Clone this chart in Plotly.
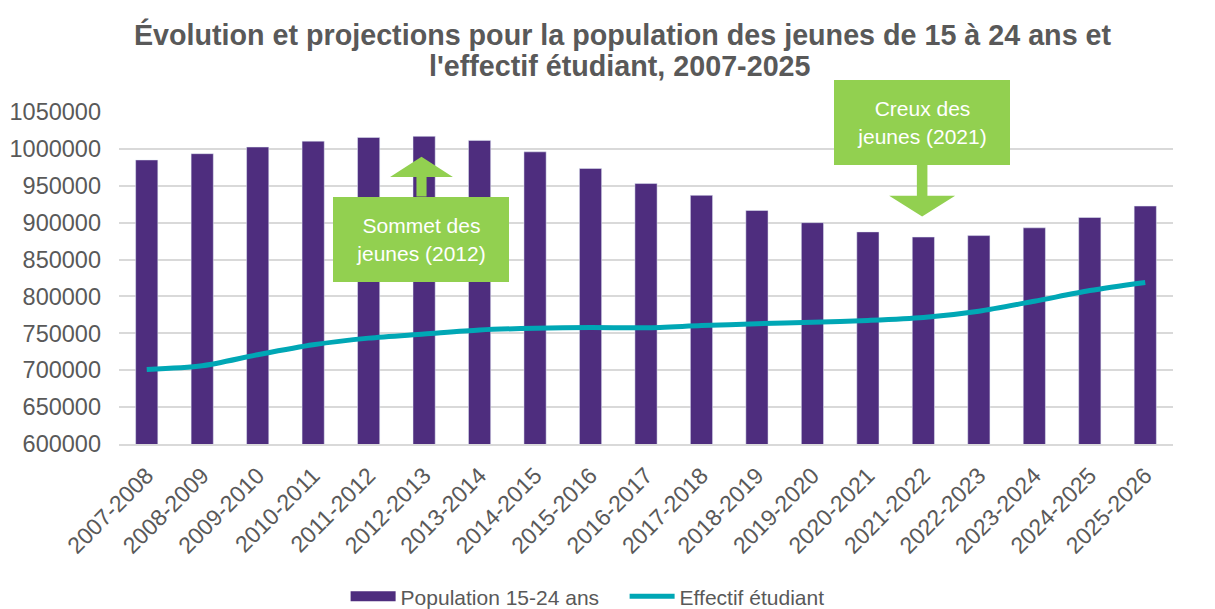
import plotly.graph_objects as go

# Données
annees = ["2007-2008", "2008-2009", "2009-2010", "2010-2011", "2011-2012",
          "2012-2013", "2013-2014", "2014-2015", "2015-2016", "2016-2017",
          "2017-2018", "2018-2019", "2019-2020", "2020-2021", "2021-2022",
          "2022-2023", "2023-2024", "2024-2025", "2025-2026"]
population = [985000, 993500, 1002500, 1010500, 1015500, 1017000, 1011500,
              996000, 973500, 953000, 937000, 916500, 900000, 887500,
              880500, 882500, 893000, 907000, 922500]
effectif = [701000, 706000, 721000, 734500, 743500, 749000, 754500, 757000,
            758000, 757500, 760500, 763000, 765000, 767500, 771500, 780000,
            793500, 808000, 819000]

GRIS = "#595959"
VIOLET = "#4E2D7E"
TURQUOISE = "#00A7B5"
VERT = "#92D050"
POLICE = "Liberation Sans, Arial, sans-serif"


def fleche(cx, base, pointe, demi_tige, demi_tete, depart):
    """Chemin SVG d'une flèche pleine (coordonnées paper)."""
    return (f"M{cx - demi_tige},{depart} L{cx - demi_tige},{base} "
            f"L{cx - demi_tete},{base} L{cx},{pointe} L{cx + demi_tete},{base} "
            f"L{cx + demi_tige},{base} L{cx + demi_tige},{depart} Z")


fig = go.Figure()

fig.add_trace(go.Bar(
    x=annees, y=population, name="Population 15-24 ans",
    marker_color=VIOLET, showlegend=False,
))
fig.add_trace(go.Scatter(
    x=annees, y=effectif, name="Effectif étudiant", mode="lines",
    line=dict(color=TURQUOISE, width=5, shape="spline", smoothing=0.8),
    showlegend=False,
))
# entrées de légende
fig.add_trace(go.Scatter(
    x=[None], y=[None], mode="lines", name="Population 15-24 ans",
    line=dict(color=VIOLET, width=12),
))
fig.add_trace(go.Scatter(
    x=[None], y=[None], mode="lines", name="Effectif étudiant",
    line=dict(color=TURQUOISE, width=5),
))

# flèches vertes
fig.add_shape(type="path", xref="paper", yref="paper",
              path=fleche(0.287, 0.8042, 0.8654, 0.0048, 0.0298, 0.7458),
              fillcolor=VERT, line_width=0, layer="above")
fig.add_shape(type="path", xref="paper", yref="paper",
              path=fleche(0.762, 0.7479, 0.6855, 0.005, 0.0313, 0.8464),
              fillcolor=VERT, line_width=0, layer="above")

# encadrés verts
encadre = dict(xref="paper", yref="paper", showarrow=False, bgcolor=VERT,
               xanchor="center", yanchor="middle",
               width=176, height=85, borderpad=0, borderwidth=0,
               font=dict(family=POLICE, size=21, color="white"))
fig.add_annotation(x=0.2864, y=0.6172, text="Sommet des<br>jeunes (2012)", **encadre)
fig.add_annotation(x=0.762, y=0.9669, text="Creux des<br>jeunes (2021)", **encadre)

# seconde ligne du titre (interligne plus serré que celui de plotly)
fig.add_annotation(x=0.4750, y=1.1374, xref="paper", yref="paper",
                   xanchor="center", yanchor="middle", showarrow=False,
                   text="<b>l'effectif étudiant, 2007-2025</b>",
                   font=dict(family=POLICE, size=28.7, color=GRIS))

# la page ajoute une marge de 8 px : figure un peu plus petite que la fenêtre
fig.update_layout(
    width=1207, height=601,
    margin=dict(l=111, r=42, t=104, b=165, autoexpand=False),
    paper_bgcolor="white", plot_bgcolor="white",
    font=dict(family=POLICE, color=GRIS),
    title=dict(
        text="<b>Évolution et projections pour la population des jeunes de 15 à 24 ans et</b>",
        x=0.5091, xanchor="center", y=0.9551, yanchor="middle",
        font=dict(family=POLICE, size=28.7, color=GRIS),
    ),
    bargap=0.6,
    legend=dict(orientation="h", x=0.215, xanchor="left", y=-0.46,
                yanchor="middle", itemwidth=45, entrywidth=219,
                font=dict(family=POLICE, size=21, color=GRIS)),
)
fig.update_yaxes(range=[600000, 1050000], dtick=50000, tickformat="d",
                 gridcolor="#D9D9D9", gridwidth=2, zeroline=False,
                 ticklabelstandoff=17, automargin=False,
                 tickfont=dict(family=POLICE, size=23.5, color=GRIS))
fig.update_xaxes(tickangle=-45, showline=True, linecolor="#D9D9D9",
                 linewidth=2, ticklabelstandoff=7, automargin=False,
                 tickfont=dict(family=POLICE, size=23, color=GRIS))

fig.write_html("out.html")
